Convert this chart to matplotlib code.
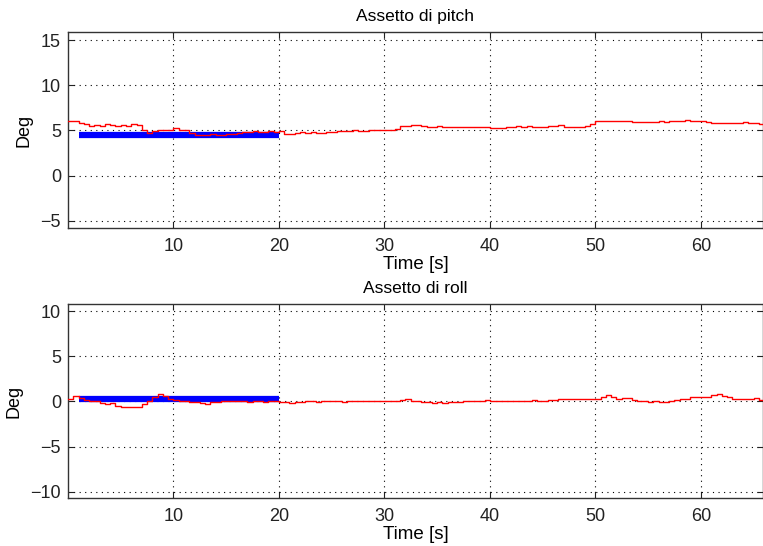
import numpy as np
import matplotlib
matplotlib.use("Agg")
import matplotlib.pyplot as plt

plt.rcParams['font.family'] = ['Liberation Sans', 'DejaVu Sans']

# Sample times [s]
time_s = np.arange(0, 66.01, 0.5)

# Measured pitch attitude [deg]
pitch_deg = [
    6.1, 6.0, 5.8, 5.7, 5.5, 5.6, 5.5, 5.7, 5.6, 5.5, 5.6, 5.5, 5.7, 5.6, 5.1, 4.7,
    4.9, 5.0, 5.0, 5.1, 5.3, 5.1, 5.1, 4.7, 4.5, 4.5, 4.5, 4.6, 4.5, 4.5, 4.6, 4.6,
    4.7, 4.8, 4.8, 4.9, 4.8, 4.8, 4.9, 4.8, 4.9, 4.6, 4.6, 4.7, 4.8, 4.7, 4.8, 4.7,
    4.7, 4.8, 4.8, 4.9, 4.9, 4.9, 5.0, 4.9, 4.9, 5.0, 5.0, 5.0, 5.0, 5.1, 5.2, 5.5,
    5.5, 5.6, 5.6, 5.5, 5.4, 5.4, 5.5, 5.4, 5.4, 5.4, 5.4, 5.4, 5.4, 5.4, 5.4, 5.4,
    5.3, 5.3, 5.3, 5.4, 5.4, 5.5, 5.4, 5.5, 5.4, 5.4, 5.4, 5.5, 5.5, 5.6, 5.4, 5.4,
    5.4, 5.4, 5.5, 5.7, 6.0, 6.1, 6.1, 6.1, 6.1, 6.0, 6.0, 5.9, 5.9, 5.9, 5.9, 5.9,
    6.0, 5.9, 6.0, 6.0, 6.0, 6.2, 6.1, 6.1, 6.0, 5.9, 5.8, 5.8, 5.8, 5.8, 5.8, 5.8,
    5.9, 5.8, 5.8, 5.7, 5.7,
]

# Measured roll attitude [deg]
roll_deg = [
    0.3, 0.6, 0.4, 0.2, 0.1, 0.0, -0.2, -0.3, -0.2, -0.5, -0.6, -0.6, -0.6, -0.6, -0.3, 0.1,
    0.5, 0.8, 0.6, 0.3, 0.2, 0.1, 0.0, -0.1, -0.1, -0.2, -0.3, -0.1, -0.1, 0.0, 0.0, 0.1,
    0.0, 0.0, -0.1, 0.0, 0.0, -0.1, 0.0, 0.0, -0.1, -0.1, -0.2, -0.1, -0.1, 0.0, 0.0, -0.1,
    0.0, 0.0, 0.0, 0.0, -0.1, 0.0, 0.0, 0.0, 0.0, 0.1, 0.0, 0.0, 0.0, 0.0, 0.1, 0.2,
    0.3, 0.1, 0.0, -0.1, -0.1, -0.2, -0.1, -0.2, -0.1, -0.1, -0.1, 0.0, 0.0, 0.0, 0.1, 0.2,
    0.1, 0.0, 0.0, 0.0, 0.1, 0.1, 0.1, 0.1, 0.2, 0.1, 0.1, 0.2, 0.2, 0.3, 0.3, 0.3,
    0.3, 0.3, 0.3, 0.3, 0.3, 0.5, 0.7, 0.5, 0.3, 0.4, 0.4, 0.2, 0.1, 0.0, -0.1, 0.0,
    -0.1, -0.1, 0.0, 0.2, 0.3, 0.3, 0.5, 0.5, 0.5, 0.5, 0.7, 0.8, 0.6, 0.5, 0.3, 0.3,
    0.3, 0.3, 0.4, 0.2, 0.2,
]

# Reference attitude over the first segment
ref_time = [1.0, 20.0]
pitch_ref = [4.5, 4.5]
roll_ref = [0.3, 0.3]

x_ticks = [10, 20, 30, 40, 50, 60]
pitch_yticks = [-5, 0, 5, 10, 15]
roll_yticks = [-10, -5, 0, 5, 10]

fig = plt.figure(figsize=(7.63, 5.46), dpi=100)
W, H = 763, 546


def make_axes(left, top, right, bottom):
    return fig.add_axes([left / W, 1 - bottom / H, (right - left) / W, (bottom - top) / H])


ax1 = make_axes(68, 32, 763, 228)
ax2 = make_axes(68, 304, 763, 498)

panels = [
    (ax1, pitch_deg, pitch_ref, "Assetto di pitch", (-5.8, 15.9), pitch_yticks),
    (ax2, roll_deg, roll_ref, "Assetto di roll", (-10.7, 10.8), roll_yticks),
]

for ax, series, ref, title, ylim, yticks in panels:
    ax.plot(time_s, series, color="red", lw=1.0, drawstyle="steps-post", zorder=3)
    ax.plot(ref_time, ref, color="#0000ff", lw=4.5, solid_capstyle="butt", zorder=2)
    ax.set_xlim(0, 65.9)
    ax.set_ylim(*ylim)
    ax.set_xticks(x_ticks)
    ax.set_yticks(yticks)
    ax.set_yticklabels([str(v).replace("-", "\u2212") for v in yticks])
    ax.grid(True, color="black", linestyle=(0, (1, 4)), linewidth=0.8)
    ax.tick_params(direction="in", top=True, right=True, length=4,
                   labelsize=13, colors="#222222")
    ax.tick_params(axis="x", pad=7)
    ax.tick_params(axis="y", pad=5)
    for sp in ax.spines.values():
        sp.set_color("#333333")
        sp.set_linewidth(1.0)
    ax.set_title(title, fontsize=12.5, pad=8)
    ax.set_xlabel("Time [s]", fontsize=13.5, labelpad=1)
    ax.set_ylabel("Deg", fontsize=13, labelpad=6)

fig.savefig("out.png", dpi=100, facecolor="white")
